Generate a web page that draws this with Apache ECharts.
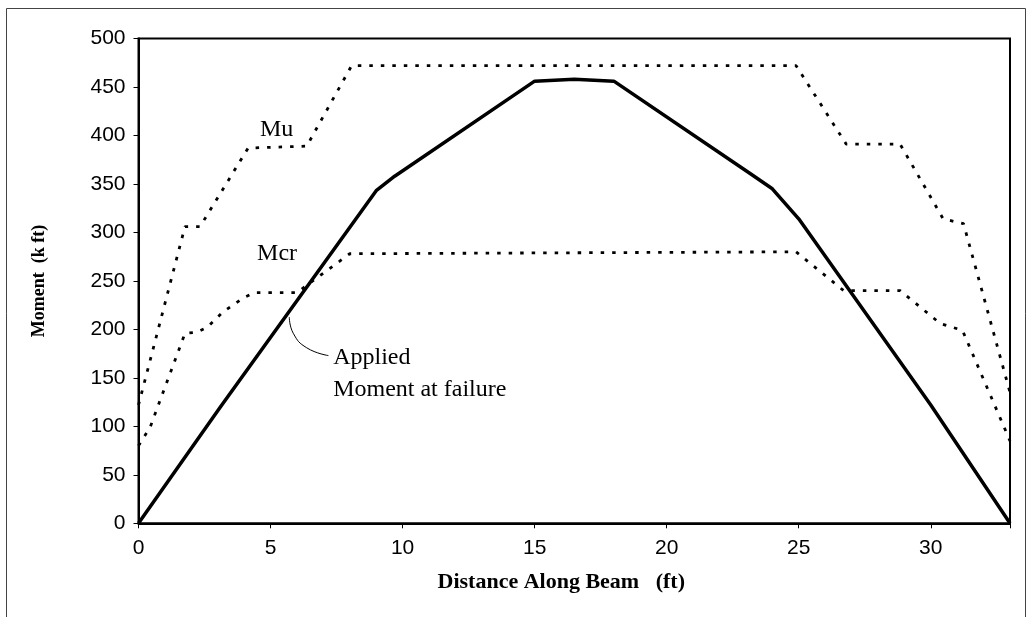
<!DOCTYPE html>
<html>
<head>
<meta charset="utf-8">
<script src="https://cdn.jsdelivr.net/npm/echarts@6/dist/echarts.min.js"></script>
<style>html,body{margin:0;padding:0;background:#fff;}#c{width:1028px;height:617px;}</style>
</head>
<body>
<div id="c"></div>
<script>
// Applied moment at failure (solid)
const appliedX = [0, 3.1, 9.0, 9.7, 15.0, 16.5, 18.0, 23.2, 24.0, 25.0, 30.0, 33];
const appliedY = [0, 120, 343, 358, 456, 458, 456, 360, 345, 314, 122, 0];
// Ultimate moment capacity Mu (dotted)
const muX = [0, 1.76, 2.33, 4.15, 6.37, 8.07, 24.9, 26.8, 28.84, 30.47, 31.24, 33];
const muY = [122, 306, 306, 387, 389, 472, 472, 391, 391, 314, 309, 135];
// Cracking moment Mcr (dotted)
const mcrX = [0, 0.44, 1.76, 2.2, 2.6, 3.2, 4.0, 4.4, 6.0, 8.0, 24.9, 26.7, 28.84, 30.36, 31.2, 33];
const mcrY = [80, 99, 196, 197, 202, 218, 233, 238, 238, 278, 280, 240, 240, 206, 199, 85];
// Leader curve for the "Applied Moment at failure" note
const leaderX = [5.71, 5.86, 6.37, 7.19];
const leaderY = [212.7, 196, 181, 173];
// Axis ticks
const xTicks = [0, 5, 10, 15, 20, 25, 30];
const yTicks = [0, 50, 100, 150, 200, 250, 300, 350, 400, 450, 500];

const zip = (xs, ys) => xs.map((x, i) => [x, ys[i]]);

const chart = echarts.init(document.getElementById('c'), null, {renderer: 'canvas'});
const serif = 'Liberation Serif, Times New Roman, serif';
const sans = 'Liberation Sans, Arial, sans-serif';

const option = {
  backgroundColor: '#fff',
  animation: false,
  grid: {left: 138.5, right: 18, top: 38.5, bottom: 93.7, show: true, borderColor: '#000', borderWidth: 2, backgroundColor: 'transparent'},
  xAxis: {
    type: 'value', min: 0, max: 33, interval: 5,
    name: 'Distance Along Beam   (ft)', nameLocation: 'middle', nameGap: 48,
    nameTextStyle: {fontFamily: serif, fontWeight: 'bold', fontSize: 22, color: '#000', padding: [0, 26, 0, 0]},
    axisLine: {show: true, onZero: false, lineStyle: {color: '#000', width: 2}},
    axisTick: {show: true, length: 5, lineStyle: {color: '#000'}},
    axisLabel: {fontFamily: sans, fontSize: 21, color: '#000', margin: 14,
      formatter: v => xTicks.includes(v) ? String(v) : ''},
    splitLine: {show: false}
  },
  yAxis: {
    type: 'value', min: 0, max: 500, interval: 50,
    name: 'Moment  (k ft)', nameLocation: 'middle', nameGap: 90,
    nameTextStyle: {fontFamily: serif, fontWeight: 'bold', fontSize: 18, color: '#000'},
    axisLine: {show: true, lineStyle: {color: '#000', width: 2}},
    axisTick: {show: true, length: 5, lineStyle: {color: '#000'}},
    axisLabel: {fontFamily: sans, fontSize: 21, color: '#000', margin: 13,
      formatter: v => yTicks.includes(v) ? String(v) : ''},
    splitLine: {show: false}
  },
  series: [
    {type: 'line', name: 'Mu', data: zip(muX, muY), symbol: 'none', z: 2,
     lineStyle: {color: '#000', width: 2.8, type: [3.5, 8]}},
    {type: 'line', name: 'Mcr', data: zip(mcrX, mcrY), symbol: 'none', z: 2,
     lineStyle: {color: '#000', width: 2.8, type: [3.5, 8]}},
    {type: 'line', name: 'Applied', data: zip(appliedX, appliedY), symbol: 'none', z: 3,
     lineStyle: {color: '#000', width: 3.5, join: 'round'}},
    {type: 'line', name: 'leader', data: zip(leaderX, leaderY), symbol: 'none', smooth: true, z: 3,
     lineStyle: {color: '#000', width: 1}}
  ]
};
chart.setOption(option);

// Annotations anchored in data coordinates
const notes = [
  {text: 'Mu', at: [4.6, 406]},
  {text: 'Mcr', at: [4.49, 278]},
  {text: 'Applied', at: [7.37, 171]},
  {text: 'Moment at failure', at: [7.37, 138]}
];
const graphics = notes.map(n => {
  const p = chart.convertToPixel({gridIndex: 0}, n.at);
  return {type: 'text', x: p[0], y: p[1], z: 10,
    style: {text: n.text, font: '24px ' + serif, fill: '#000', verticalAlign: 'middle'}};
});
graphics.push({type: 'rect', shape: {x: 6.5, y: 8.5, width: 1019, height: 700}, z: 0,
  style: {fill: 'none', stroke: '#444', lineWidth: 1}});
chart.setOption({graphic: graphics});
</script>
</body>
</html>
